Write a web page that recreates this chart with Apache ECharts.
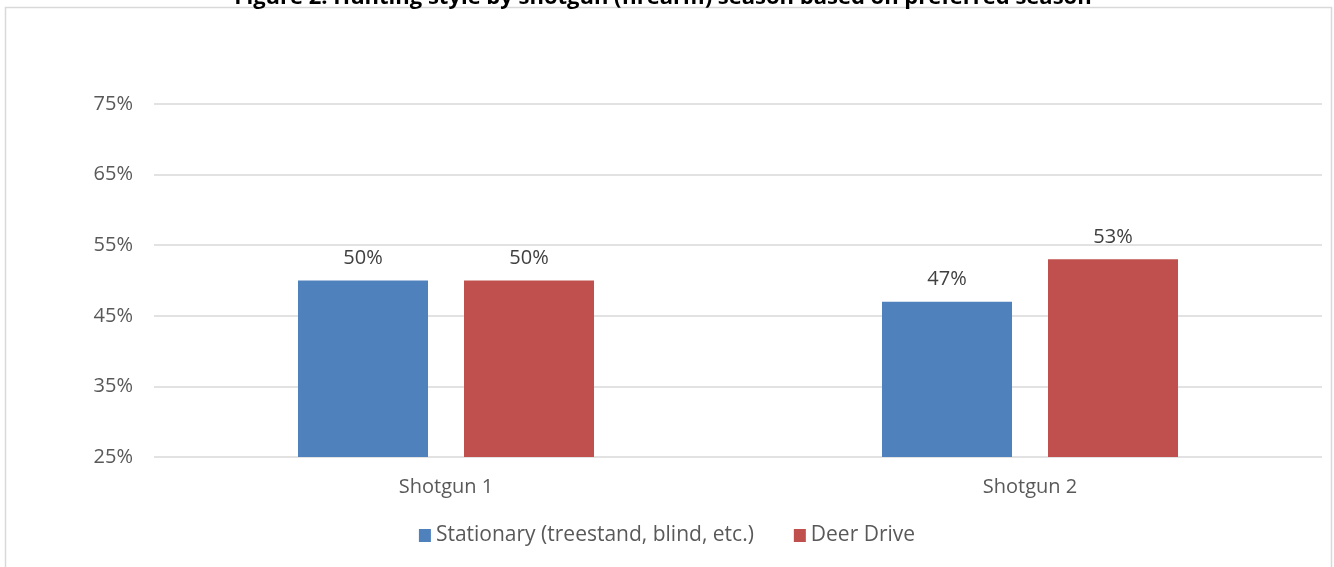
<!DOCTYPE html>
<html>
<head>
<meta charset="utf-8">
<script src="https://cdn.jsdelivr.net/npm/echarts@6/dist/echarts.min.js"></script>
<style>
html,body{margin:0;padding:0;background:#fff;}
#chart{width:1334px;height:567px;}
</style>
</head>
<body>
<div id="chart"></div>
<script>
const titleText = 'Figure 2: Hunting style by shotgun (firearm) season based on preferred season';
const categories = ['Shotgun 1', 'Shotgun 2'];
const seriesNames = ['Stationary (treestand, blind, etc.)', 'Deer Drive'];
const stationary = [50, 47];
const deerDrive = [50, 53];
const yMin = 25, yMax = 75, yStep = 10;

const FONT = 'Open Sans';
const chart = echarts.init(document.getElementById('chart'));
chart.setOption({
  animation: false,
  backgroundColor: '#fff',
  textStyle: { fontFamily: FONT },
  graphic: [
    { type: 'rect', shape: { x: 5.5, y: 7.5, width: 1326, height: 620 },
      style: { fill: 'none', stroke: '#d9d9d9', lineWidth: 1.5 }, z: 0 },
    { type: 'text', x: 663, y: 9, z: 10,
      style: { text: titleText, fill: '#000', font: 'bold 22px "' + FONT + '"',
               textAlign: 'center', textVerticalAlign: 'bottom' } }
  ],
  legend: {
    bottom: 16, left: 'center', itemWidth: 12, itemHeight: 13, itemGap: 40,
    icon: 'rect',
    textStyle: { fontSize: 21, color: '#595959', fontFamily: FONT },
    data: seriesNames
  },
  grid: { left: 154, right: 12, top: 104, bottom: 110, containLabel: false },
  xAxis: {
    type: 'category', data: categories,
    axisLine: { show: false }, axisTick: { show: false },
    axisLabel: { fontSize: 20, color: '#595959', margin: 20, fontFamily: FONT }
  },
  yAxis: {
    type: 'value', min: yMin, max: yMax, interval: yStep,
    axisLine: { show: false }, axisTick: { show: false },
    axisLabel: { formatter: '{value}%', fontSize: 20, color: '#595959', margin: 21, fontFamily: FONT },
    splitLine: { lineStyle: { color: '#d9d9d9', width: 1.5 } }
  },
  series: [
    { name: seriesNames[0], type: 'bar', data: stationary, barWidth: 130, barGap: '27.7%',
      itemStyle: { color: '#4f81bd' },
      label: { show: true, position: 'top', distance: 12, formatter: '{c}%', fontSize: 20, color: '#404040', fontFamily: FONT } },
    { name: seriesNames[1], type: 'bar', data: deerDrive, barWidth: 130, barGap: '27.7%',
      itemStyle: { color: '#c0504d' },
      label: { show: true, position: 'top', distance: 12, formatter: '{c}%', fontSize: 20, color: '#404040', fontFamily: FONT } }
  ]
});
</script>
</body>
</html>
